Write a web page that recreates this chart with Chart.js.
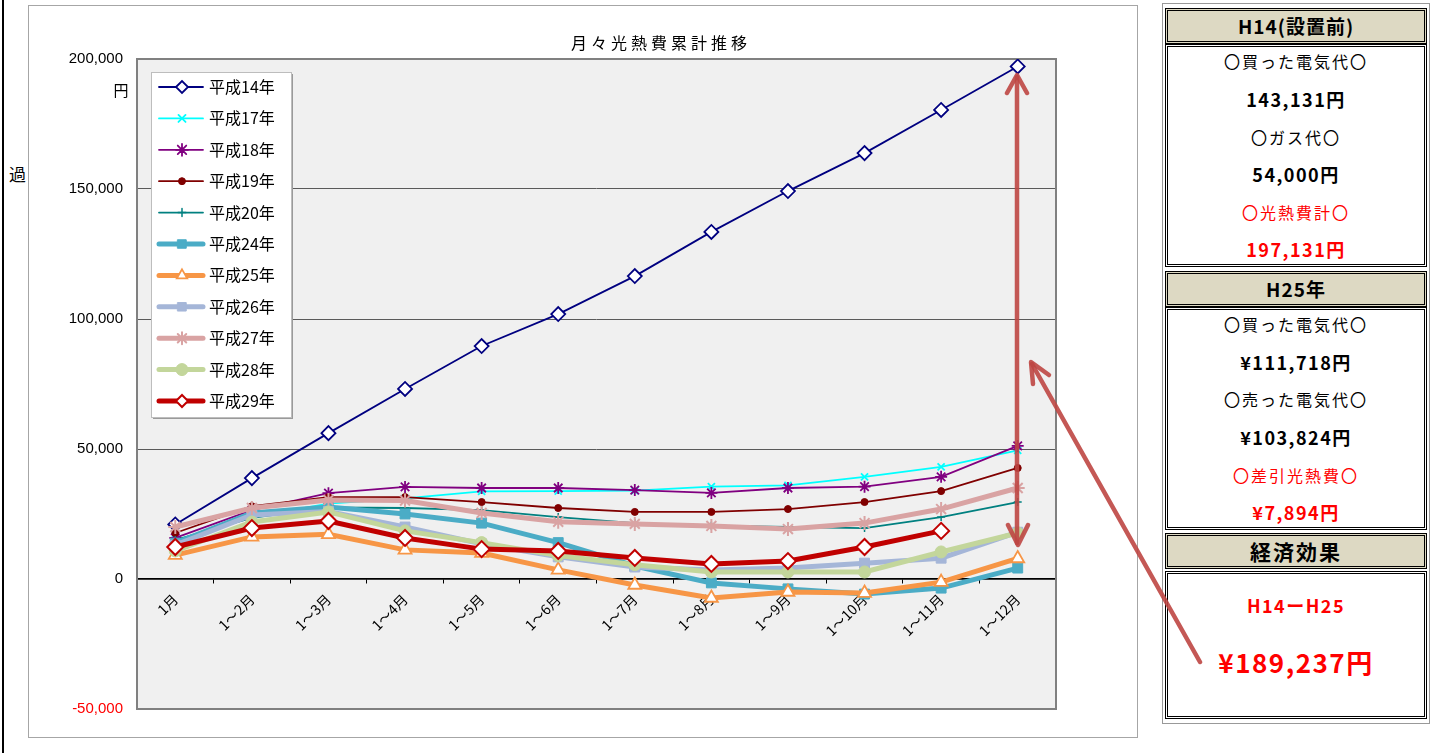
<!DOCTYPE html>
<html>
<head>
<meta charset="utf-8">
<script src="https://cdn.jsdelivr.net/npm/chart.js@4.4.1/dist/chart.umd.min.js"></script>
<style>
  body { margin: 0; width: 1431px; height: 753px; position: relative; background: #fff; overflow: hidden; font-family: "Noto Sans CJK JP", sans-serif; }
  .abs { position: absolute; }
  #leftLine { left: 2px; top: 0; width: 2px; height: 753px; background: #000; }
  #chartBox { left: 28px; top: 5px; width: 1108px; height: 731px; border: 1px solid #a6a6a6; }
  #chartWrap { left: 28px; top: 5px; width: 1110px; height: 733px; }
  #title { left: 461px; top: 31px; width: 400px; text-align: center; font-size: 16px; letter-spacing: 4px; line-height: 22px; color: #000; }
  #yTitle { left: 9px; top: 163px; font-size: 17px; line-height: 22px; }
  #panel { left: 1162px; top: 3px; width: 266px; height: 719px; border: 1px solid #999; }
  .box { position: absolute; left: 1165px; width: 256px; border: 3px double #000; }
  .head { background: #ddd9c3; }
  .line { position: absolute; left: 1165px; width: 262px; text-align: center; line-height: 24px; height: 24px; }
  .t { font-size: 16px; letter-spacing: 2px; }
  .v { font-size: 18px; font-weight: bold; letter-spacing: 1.5px; }
  .h { font-size: 19px; font-weight: bold; letter-spacing: 1px; }
  .red { color: #ff0000; }
  svg { position: absolute; left: 0; top: 0; pointer-events: none; }
</style>
</head>
<body>
<div id="leftLine" class="abs"></div>
<div id="chartBox" class="abs"></div>
<div id="chartWrap" class="abs"><canvas id="chart"></canvas></div>
<div id="title" class="abs">月々光熱費累計推移</div>
<div id="yTitle" class="abs">過</div>

<div id="panel" class="abs"></div>
<div class="box head" style="top:8px;height:30px;"></div>
<div class="box" style="top:44px;height:217px;"></div>
<div class="box head" style="top:271px;height:30px;"></div>
<div class="box" style="top:307px;height:217px;"></div>
<div class="box head" style="top:533px;height:30px;"></div>
<div class="box" style="top:571px;height:142px;"></div>

<div class="line h" style="top:14px;">H14(設置前)</div>
<div class="line t" style="top:49px;">〇買った電気代〇</div>
<div class="line v" style="top:87px;">143,131円</div>
<div class="line t" style="top:125px;">〇ガス代〇</div>
<div class="line v" style="top:162px;">54,000円</div>
<div class="line t red" style="top:200px;">〇光熱費計〇</div>
<div class="line v red" style="top:237px;">197,131円</div>

<div class="line h" style="top:277px;">H25年</div>
<div class="line t" style="top:312px;">〇買った電気代〇</div>
<div class="line v" style="top:350px;">¥111,718円</div>
<div class="line t" style="top:387px;">〇売った電気代〇</div>
<div class="line v" style="top:425px;">¥103,824円</div>
<div class="line t red" style="top:463px;">〇差引光熱費〇</div>
<div class="line v red" style="top:500px;">¥7,894円</div>

<div class="line h" style="top:539px;font-size:21px;letter-spacing:2px;">経済効果</div>
<div class="line v red" style="top:593px;">H14ーH25</div>
<div class="line red" style="top:645px;height:34px;line-height:34px;font-size:26px;font-weight:bold;letter-spacing:1.5px;">¥189,237円</div>

<svg width="1431" height="753">
  <g stroke="rgba(190,70,66,0.9)" stroke-width="4.5" fill="none" stroke-linecap="round" stroke-linejoin="round">
    <line x1="1017" y1="77" x2="1017" y2="543"/>
    <polyline points="1007,93 1017,75 1027,93"/>
    <polyline points="1008,525 1018,545 1028,525"/>
    <line x1="1200" y1="662" x2="1032" y2="364"/>
    <polyline points="1033,384 1031,362 1049,375"/>
  </g>
</svg>

<script>
// categories
const MONTHS = ['1月', '1～2月', '1～3月', '1～4月', '1～5月', '1～6月', '1～7月', '1～8月', '1～9月', '1～10月', '1～11月', '1～12月'];

// cumulative cost per year (円)
const H14 = [21000, 38800, 56100, 73100, 89600, 101900, 116500, 133500, 149200, 163800, 180400, 197131];
const H17 = [15000, 23800, 29000, 31000, 33700, 33800, 34000, 35500, 36000, 39300, 43100, 49500];
const H18 = [15800, 26500, 33000, 35400, 35000, 35000, 34200, 33100, 35000, 35500, 39300, 51200];
const H19 = [17700, 28000, 31500, 31500, 29600, 27300, 25800, 25800, 26900, 29600, 33800, 42700];
const H20 = [15000, 23500, 27500, 27300, 26500, 23800, 21500, 20500, 20000, 19600, 23800, 29600];
const H24 = [13800, 25400, 27700, 25000, 21500, 14000, 5000, -1500, -3800, -5800, -3500, 4200];
const H25 = [9200, 16200, 17200, 11200, 10000, 3500, -2300, -7300, -5000, -5400, -1200, 7894];
const H26 = [13000, 24600, 26000, 20000, 13500, 8500, 4600, 3500, 4200, 6100, 8000, 18000];
const H27 = [20000, 27300, 30400, 30200, 25400, 22000, 21200, 20400, 19200, 21500, 26900, 35000];
const H28 = [10800, 21900, 25800, 18500, 14000, 9000, 5500, 2700, 2700, 2700, 10400, 17700];
const H29 = [12300, 19600, 22300, 15800, 11500, 10800, 8100, 5800, 6900, 12300, 18500, null];

// y axis ticks
const Y_MIN = -50000;
const Y_MAX = 200000;
const Y_STEP = 50000;

// series look: label, data, color, line width, marker, radius, marker fill, marker border
const SERIES = [
    ['平成14年', H14, '#000080', 1.8, 'rectRot', 7, '#ffffff', 1.8],
    ['平成17年', H17, '#00ffff', 1.8, 'crossRot', 5, '#00ffff', 1.8],
    ['平成18年', H18, '#800080', 1.8, 'star', 6, '#800080', 1.8],
    ['平成19年', H19, '#800000', 1.8, 'circle', 3.5, '#800000', 1],
    ['平成20年', H20, '#008080', 1.8, 'cross', 4, '#008080', 1.5],
    ['平成24年', H24, '#4bacc6', 5, 'rect', 7, '#4bacc6', 1],
    ['平成25年', H25, '#f79646', 5, 'triangle', 7.5, '#ffffff', 1.8],
    ['平成26年', H26, '#a5b6d8', 5, 'rect', 7, '#a5b6d8', 1],
    ['平成27年', H27, '#d9a3a3', 5, 'star', 7, '#d9a3a3', 2],
    ['平成28年', H28, '#c3d69b', 5, 'circle', 6, '#c3d69b', 1],
    ['平成29年', H29, '#c00000', 5, 'rectRot', 8, '#ffffff', 2],
];

const datasets = SERIES.map((s, i) => ({
    label: s[0],
    data: s[1],
    borderColor: s[2],
    backgroundColor: s[2],
    borderWidth: s[3],
    pointStyle: s[4],
    pointRadius: s[5],
    pointHoverRadius: s[5],
    pointBackgroundColor: s[6],
    pointBorderColor: s[2],
    pointBorderWidth: s[7],
    tension: 0,
    order: SERIES.length - 1 - i,
}));

const plotBackground = {
    id: 'plotBackground',
    beforeDraw(chart) {
        const {ctx, chartArea: a} = chart;
        ctx.save();
        ctx.fillStyle = '#f0f0f0';
        ctx.fillRect(a.left, a.top, a.right - a.left, a.bottom - a.top);
        ctx.restore();
    },
    beforeDatasetsDraw(chart) {
        const {ctx, chartArea: a} = chart;
        ctx.save();
        ctx.strokeStyle = '#808080';
        ctx.lineWidth = 2;
        ctx.strokeRect(a.left, a.top, a.right - a.left, a.bottom - a.top);
        ctx.fillStyle = '#000';
        ctx.font = '15px "Noto Sans CJK JP"';
        ctx.textAlign = 'center';
        ctx.textBaseline = 'middle';
        ctx.fillText('円', a.left - 16, a.top + 31);
        ctx.restore();
    }
};

const boxLegend = {
    id: 'boxLegend',
    afterDraw(chart) {
        const {ctx, chartArea: a} = chart;
        const x = a.left + 14, y = a.top + 13, w = 140, h = 345;
        ctx.save();
        ctx.fillStyle = '#9a9a9a';
        ctx.fillRect(x + 2, y + 2, w, h);
        ctx.fillStyle = '#ffffff';
        ctx.fillRect(x, y, w, h);
        ctx.strokeStyle = '#bdbdbd';
        ctx.lineWidth = 1;
        ctx.strokeRect(x + 0.5, y + 0.5, w, h);
        ctx.font = '16px "Noto Sans CJK JP"';
        ctx.textBaseline = 'middle';
        SERIES.forEach((s, i) => {
            const yy = y + 15 + i * 31.4;
            ctx.strokeStyle = s[2];
            ctx.lineWidth = s[3];
            ctx.lineCap = 'round';
            ctx.beginPath();
            ctx.moveTo(x + 8, yy);
            ctx.lineTo(x + 52, yy);
            ctx.stroke();
            ctx.fillStyle = s[6];
            ctx.lineWidth = s[7];
            if (Chart.helpers && Chart.helpers.drawPoint) {
                Chart.helpers.drawPoint(ctx, {pointStyle: s[4], radius: Math.min(s[5], 6), borderWidth: s[7], rotation: 0}, x + 31, yy);
            }
            ctx.fillStyle = '#000';
            ctx.fillText(s[0], x + 58, yy);
        });
        ctx.restore();
    }
};

new Chart(document.getElementById('chart'), {
    type: 'line',
    data: {labels: MONTHS, datasets: datasets},
    options: {
        responsive: true,
        maintainAspectRatio: false,
        animation: false,
        layout: {padding: {top: 54, right: 82, bottom: 29, left: 0}},
        plugins: {
            legend: {display: false},
            title: {display: false},
            tooltip: {enabled: false}
        },
        scales: {
            x: {
                position: {y: 0},
                offset: true,
                grid: {display: true, drawOnChartArea: false, offset: true, tickLength: 4, color: '#000'},
                border: {color: '#000', width: 1.5},
                ticks: {
                    minRotation: 45,
                    maxRotation: 45,
                    padding: 8,
                    color: '#000',
                    font: {family: '"Noto Sans CJK JP"', size: 14}
                }
            },
            y: {
                min: Y_MIN,
                max: Y_MAX,
                afterFit(scale) { scale.width = 109; },
                grid: {
                    drawTicks: false,
                    color: c => c.tick && c.tick.value === 0 ? '#000' : '#5a5a5a',
                    lineWidth: c => c.tick && c.tick.value === 0 ? 1.5 : 1
                },
                border: {display: false},
                ticks: {
                    stepSize: Y_STEP,
                    padding: 14,
                    color: c => c.tick.value < 0 ? '#ff0000' : '#000',
                    font: {family: '"Liberation Sans"', size: 15},
                    callback: v => v.toLocaleString('en-US')
                }
            }
        }
    },
    plugins: [plotBackground, boxLegend]
});
</script>
</body>
</html>
